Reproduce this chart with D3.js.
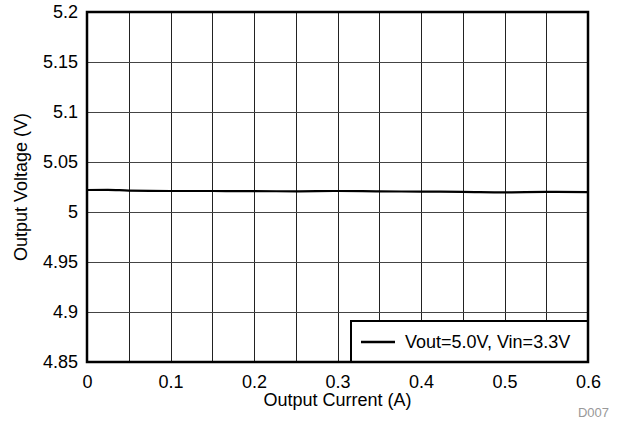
<!DOCTYPE html>
<html>
<head>
<meta charset="utf-8">
<script src="https://cdn.jsdelivr.net/npm/d3@7"></script>
<style>
  body { margin: 0; background: #fff; }
  text { font-family: "Liberation Sans", Arial, sans-serif; }
</style>
</head>
<body>
<svg class="chart" width="619" height="423"></svg>
<script>
// output current (A) and output voltage (V)
var current = [0, 0.025, 0.05, 0.1, 0.15, 0.2, 0.25, 0.3, 0.35, 0.4, 0.45, 0.5, 0.55, 0.6];
var voltage = [5.0220, 5.0222, 5.0214, 5.0210, 5.0210, 5.0208, 5.0207, 5.0210, 5.0206, 5.0204, 5.0202, 5.0197, 5.0201, 5.0198];
var xTicks = [0, 0.1, 0.2, 0.3, 0.4, 0.5, 0.6];
var yTicks = [4.85, 4.9, 4.95, 5, 5.05, 5.1, 5.15, 5.2];
var seriesName = "Vout=5.0V, Vin=3.3V";

var margin = {top: 12, right: 31, bottom: 61, left: 87},
    width = 619 - margin.left - margin.right,
    height = 423 - margin.top - margin.bottom;

var x = d3.scaleLinear().domain([0, 0.6]).range([0, width]);
var y = d3.scaleLinear().domain([4.85, 5.2]).range([height, 0]);

var svg = d3.select(".chart");
var g = svg.append("g").attr("transform", "translate(" + margin.left + "," + margin.top + ")");

// grid
g.append("g")
  .selectAll("line")
  .data(d3.range(0.05, 0.6, 0.05))
  .enter().append("line")
  .attr("x1", function(d) { return Math.round(x(d)) + 0.5; })
  .attr("x2", function(d) { return Math.round(x(d)) + 0.5; })
  .attr("y1", 0).attr("y2", height)
  .attr("stroke", "#222").attr("stroke-width", 1);

g.append("g")
  .selectAll("line")
  .data(yTicks.slice(1, -1))
  .enter().append("line")
  .attr("y1", function(d) { return Math.round(y(d)) + 0.5; })
  .attr("y2", function(d) { return Math.round(y(d)) + 0.5; })
  .attr("x1", 0).attr("x2", width)
  .attr("stroke", "#444").attr("stroke-width", 1);

// axes labels
var xAxis = d3.axisBottom(x).tickValues(xTicks).tickSize(0).tickPadding(13)
  .tickFormat(function(d) { return d === 0 ? "0" : d3.format(".1f")(d); });
var yAxis = d3.axisLeft(y).tickValues(yTicks).tickSize(0).tickPadding(9)
  .tickFormat(function(d) { return String(+d.toFixed(2)); });

var gx = g.append("g").attr("transform", "translate(0," + height + ")").call(xAxis);
var gy = g.append("g").call(yAxis);
[gx, gy].forEach(function(a) {
  a.select(".domain").remove();
  a.selectAll("text").attr("font-size", 18).attr("fill", "#000")
    .style("font-family", "'Liberation Sans', Arial, sans-serif");
});

// data line
var line = d3.line()
  .x(function(d, i) { return x(current[i]); })
  .y(function(d) { return y(d); })
  .curve(d3.curveMonotoneX);

g.append("path")
  .datum(voltage)
  .attr("d", line)
  .attr("fill", "none")
  .attr("stroke", "#000")
  .attr("stroke-width", 2.2);

// legend
var lg = g.append("g");
lg.append("rect")
  .attr("x", 264).attr("y", 309)
  .attr("width", width - 264).attr("height", height - 309)
  .attr("fill", "#fff").attr("stroke", "#000").attr("stroke-width", 2);
lg.append("line")
  .attr("x1", 274).attr("x2", 308)
  .attr("y1", 330).attr("y2", 330)
  .attr("stroke", "#000").attr("stroke-width", 2.5);
lg.append("text")
  .attr("x", 318).attr("y", 336)
  .attr("font-size", 18)
  .text(seriesName);

// border
g.append("rect")
  .attr("x", 0).attr("y", 0)
  .attr("width", width).attr("height", height)
  .attr("fill", "none").attr("stroke", "#000").attr("stroke-width", 2.5);

// titles
svg.append("text")
  .attr("x", margin.left + width / 2).attr("y", 406)
  .attr("text-anchor", "middle").attr("font-size", 18)
  .text("Output Current (A)");

svg.append("text")
  .attr("transform", "translate(27," + (margin.top + height / 2) + ") rotate(-90)")
  .attr("text-anchor", "middle").attr("font-size", 18)
  .text("Output Voltage (V)");

svg.append("text")
  .attr("x", 609).attr("y", 417)
  .attr("text-anchor", "end").attr("font-size", 13).attr("fill", "#999")
  .text("D007");
</script>
</body>
</html>
